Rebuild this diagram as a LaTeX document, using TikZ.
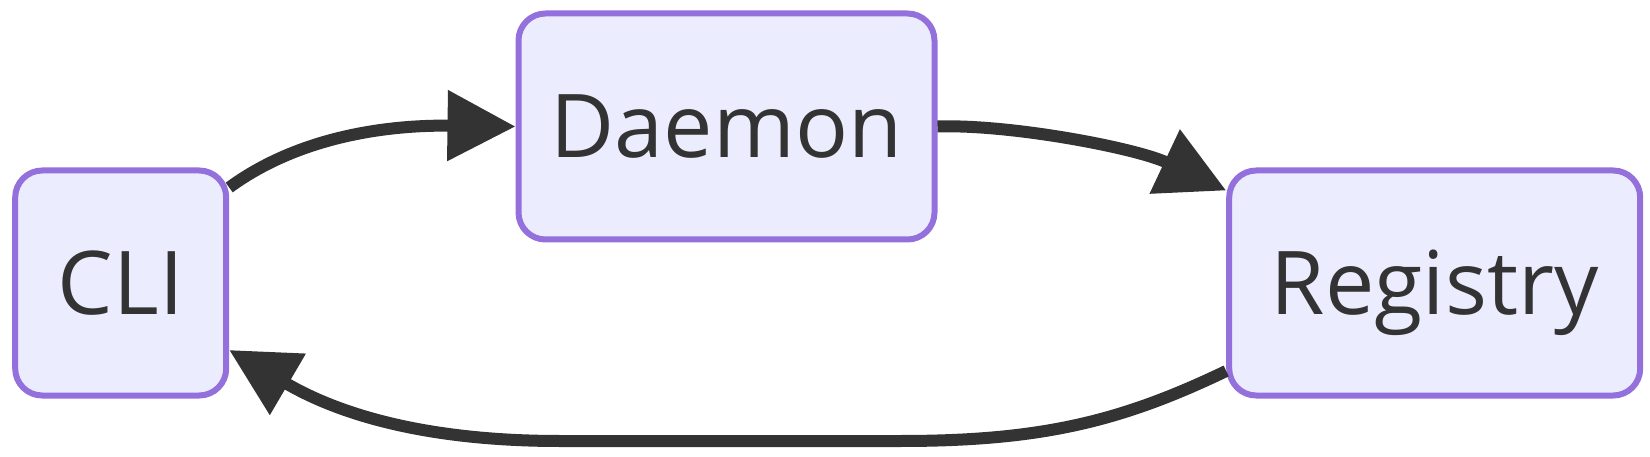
\documentclass[tikz,border=0pt]{standalone}
\usepackage{fontspec}
\setmainfont{Open Sans}
\usetikzlibrary{arrows.meta}
\definecolor{nodefill}{HTML}{ECECFF}
\definecolor{nodeborder}{HTML}{9370DB}
\definecolor{ink}{HTML}{333333}
\begin{document}
\begin{tikzpicture}[x=1pt,y=-1pt,
  box/.style={draw=nodeborder, fill=nodefill, line width=6pt, rounded corners=27pt,
    inner sep=0pt, text=ink, font=\fontsize{88}{93}\selectfont,
    text height=63pt, text depth=0pt},
  edge/.style={draw=ink, line width=12pt, -{Triangle[length=68pt,width=68pt]}}]
\useasboundingbox (0,0) rectangle (1650,457);
\node[box, minimum width=211pt, minimum height=225pt] (cli) at (120.7,283) {CLI};
\node[box, minimum width=416pt, minimum height=226pt] (daemon) at (726.5,126.5) {Daemon};
\node[box, minimum width=411pt, minimum height=225pt] (registry) at (1434.7,283) {Registry};
\draw[edge] ([yshift=-20pt]cli.north east) .. controls (305,132) and (400,125) .. (daemon.west);
\draw[edge] (daemon.east) .. controls (1010,124) and (1136,148) .. ([yshift=-23pt]registry.north west);
\draw[edge] ([yshift=-88pt]registry.west) .. controls (1120,422) and (1040,441) .. (900,441)
  -- (560,441) .. controls (420,441) and (335,412) .. ([yshift=-67pt]cli.east);
\end{tikzpicture}
\end{document}
